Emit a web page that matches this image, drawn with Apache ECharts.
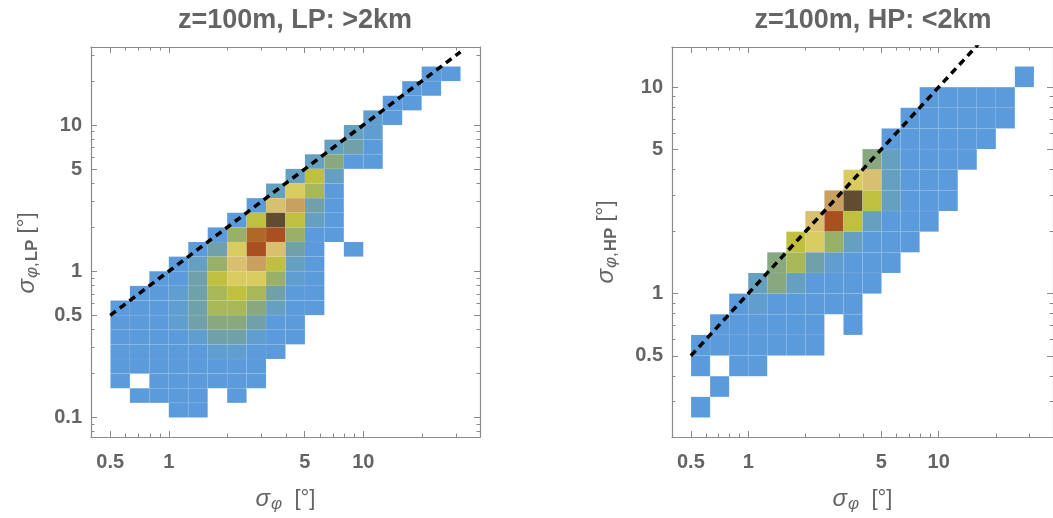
<!DOCTYPE html>
<html>
<head>
<meta charset="utf-8">
<script src="https://cdn.jsdelivr.net/npm/echarts@6/dist/echarts.min.js"></script>
<style>
  html, body { margin: 0; padding: 0; background: #ffffff; }
  #chart { width: 1053px; height: 518px; }
</style>
</head>
<body>
<div id="chart"></div>
<script>
// Histogram bins are 0.1 wide in log10 units: bin k spans 10^(0.1k) .. 10^(0.1(k+1)).
const BIN = 0.1;

// Counts per row: [yBin, firstXBin, counts for consecutive x bins...]; 0 = empty bin.
const lpRows = [
  [13, 13, 1, 1],
  [12, 12, 1, 1],
  [11, 11, 1, 1],
  [10, 10, 2, 1],
  [9, 9, 3, 2],
  [8, 8, 3, 4, 1],
  [7, 7, 3, 5, 1, 1],
  [6, 6, 3, 8, 3],
  [5, 5, 3, 9, 7, 1],
  [4, 4, 1, 10, 11, 4, 1],
  [3, 3, 1, 8, 14, 8, 3, 1],
  [2, 2, 1, 6, 12, 13, 6, 1, 1],
  [1, 1, 1, 4, 9, 13, 10, 4, 1, 0, 1],
  [0, 0, 1, 3, 6, 10, 11, 8, 3, 1],
  [-1, -1, 1, 1, 4, 8, 9, 9, 6, 2, 1],
  [-2, -2, 1, 1, 2, 4, 7, 8, 7, 4, 1, 1],
  [-3, -3, 1, 1, 1, 2, 4, 7, 7, 5, 3, 1, 1],
  [-4, -3, 1, 1, 1, 2, 4, 5, 5, 4, 1, 1],
  [-5, -3, 1, 1, 1, 1, 2, 4, 4, 2, 1, 1],
  [-6, -3, 1, 1, 1, 1, 1, 2, 2, 1, 1],
  [-7, -3, 1, 1, 1, 1, 1, 1, 1, 1],
  [-8, -3, 1, 0, 1, 1, 1, 1, 1, 1],
  [-9, -2, 1, 1, 1, 1, 0, 1],
  [-10, 0, 1, 1]
];

const hpRows = [
  [10, 14, 1],
  [9, 9, 1, 1, 1, 1, 1],
  [8, 8, 1, 1, 1, 1, 1, 1],
  [7, 7, 1, 1, 1, 1, 1, 1],
  [6, 6, 5, 3, 1, 1, 1, 1],
  [5, 5, 9, 10, 3, 1, 1, 1],
  [4, 4, 11, 14, 8, 3, 1, 1, 1],
  [3, 3, 10, 13, 8, 3, 1, 1, 1],
  [2, 2, 8, 9, 6, 3, 1, 1, 1],
  [1, 1, 5, 7, 4, 2, 1, 1, 1],
  [0, 0, 3, 5, 3, 1, 1, 1, 1],
  [-1, -1, 1, 2, 1, 1, 1, 1, 1],
  [-2, -2, 1, 1, 1, 1, 1, 1, 0, 1],
  [-3, -3, 1, 1, 1, 1, 1, 1, 1],
  [-4, -3, 1, 0, 1, 1],
  [-5, -2, 1],
  [-6, -3, 1]
];

// 1:1 reference line
const diagonal = [0.5, 31.6];

// Tick values
const xMajor = [0.5, 1, 5, 10];
const xMinor = [0.6, 0.7, 0.8, 0.9, 2, 3, 4, 6, 7, 8, 9, 20, 30];
const lpYMajor = [0.1, 0.5, 1, 5, 10];
const lpYMinor = [0.08, 0.09, 0.2, 0.3, 0.4, 0.6, 0.7, 0.8, 0.9, 2, 3, 4, 6, 7, 8, 9, 20, 30];
const hpYMajor = [0.5, 1, 5, 10];
const hpYMinor = [0.3, 0.4, 0.6, 0.7, 0.8, 0.9, 2, 3, 4, 6, 7, 8, 9];

// Colour scale for the counts (low -> high)
const palette = ['#5b9bdc', '#5f9ecf', '#66a0c0', '#70a0a8', '#88a880', '#98b068', '#a8b858',
                 '#c0c040', '#d8cc60', '#d8c070', '#c8a060', '#b06828', '#a85020', '#604c30'];

function toCells(rows) {
  const out = [];
  rows.forEach(r => {
    const j = r[0], i0 = r[1];
    for (let k = 2; k < r.length; k++) {
      if (r[k] > 0) out.push([Math.pow(10, (i0 + k - 2) * BIN), Math.pow(10, j * BIN), r[k]]);
    }
  });
  return out;
}

function renderCell(params, api) {
  const f = Math.pow(10, BIN);
  const x0 = api.value(0), y0 = api.value(1);
  const a = api.coord([x0, y0 * f]);
  const b = api.coord([x0 * f, y0]);
  return {
    type: 'rect',
    shape: { x: a[0], y: a[1], width: b[0] - a[0], height: b[1] - a[1] },
    style: { fill: api.visual('color'), stroke: 'rgba(255,255,255,0.12)', lineWidth: 0.5 }
  };
}

const GREY = '#646464';
const FRAME = '#8a8a8a';
const FONT = 'Liberation Sans';

function fmt(v) { return String(+Number(v).toPrecision(3)); }

function axisSet(dim, grid, min, max, major, minor, name, nameGap, namePad) {
  const first = dim === 'x' ? 'bottom' : 'left';
  const second = dim === 'x' ? 'top' : 'right';
  const base = {
    type: 'log', logBase: 10, gridIndex: grid, min: min, max: max,
    splitLine: { show: false }
  };
  const mk = (pos, ticks, len, labels, line) => Object.assign({}, base, {
    position: pos,
    axisLine: { show: line, onZero: false, lineStyle: { color: FRAME, width: 1.2 } },
    axisTick: { show: true, inside: true, length: len, customValues: ticks,
                lineStyle: { color: FRAME, width: 1 } },
    axisLabel: labels ? {
      show: true, customValues: major, formatter: fmt,
      margin: dim === 'x' ? 15 : 9,
      fontFamily: FONT, fontWeight: 'bold', fontSize: 20, color: GREY
    } : { show: false }
  });
  const main = mk(first, major, 6, true, true);
  if (name) {
    main.name = name;
    main.nameLocation = 'middle';
    main.nameGap = nameGap;
    main.nameTextStyle = {
      color: GREY, fontFamily: FONT, fontSize: 22, padding: namePad || 0,
      rich: {
        s: { fontStyle: 'italic', fontSize: 24, color: GREY, fontFamily: FONT },
        sub: { fontStyle: 'italic', fontSize: 17, color: GREY, fontFamily: FONT, padding: [11, 0, 0, 1] },
        subn: { fontSize: 17, color: GREY, fontFamily: FONT, padding: [11, 0, 0, 0] },
        subb: { fontSize: 17, fontWeight: 'bold', color: GREY, fontFamily: FONT, padding: [11, 0, 0, 1] },
        n: { fontSize: 22, color: GREY, fontFamily: FONT }
      }
    };
  }
  return [
    main,
    mk(first, minor, 3.5, false, false),
    mk(second, major, 6, false, true),
    mk(second, minor, 3.5, false, false)
  ];
}

const xName = '{s|σ}{sub|φ}  {n|[°]}';
const lpYName = '{s|σ}{sub|φ}{subn|,}{subb|LP} {n|[°]}';
const hpYName = '{s|σ}{sub|φ}{subn|,}{subb|HP} {n|[°]}';

const X_MIN = Math.pow(10, -0.4), X_MAX = Math.pow(10, 1.6);
const LP_Y_MIN = Math.pow(10, -1.1333), LP_Y_MAX = Math.pow(10, 1.5333);
const HP_Y_MIN = Math.pow(10, -0.6944), HP_Y_MAX = Math.pow(10, 1.1944);

const xAxes = [].concat(
  axisSet('x', 0, X_MIN, X_MAX, xMajor, xMinor, xName, 48),
  axisSet('x', 1, X_MIN, X_MAX, xMajor, xMinor, xName, 48)
);
const yAxes = [].concat(
  axisSet('y', 0, LP_Y_MIN, LP_Y_MAX, lpYMajor, lpYMinor, lpYName, 50, [0, 22, 0, 0]),
  axisSet('y', 1, HP_Y_MIN, HP_Y_MAX, hpYMajor, hpYMinor, hpYName, 52)
);

const titleStyle = { fontFamily: FONT, fontWeight: 'bold', fontSize: 27, color: GREY };

const option = {
  animation: false,
  backgroundColor: '#ffffff',
  title: [
    { text: 'z=100m, LP: >2km', left: 290, top: 2, textAlign: 'center', textStyle: titleStyle },
    { text: 'z=100m, HP: <2km', left: 868, top: 2, textAlign: 'center', textStyle: titleStyle }
  ],
  grid: [
    { left: 91, top: 47, width: 389, height: 390 },
    { left: 672, top: 47, width: 389, height: 390 }
  ],
  xAxis: xAxes,
  yAxis: yAxes,
  visualMap: {
    show: false, type: 'continuous', seriesIndex: [0, 2], dimension: 2,
    min: 1, max: palette.length, inRange: { color: palette }
  },
  series: [
    { type: 'custom', xAxisIndex: 0, yAxisIndex: 0, data: toCells(lpRows),
      encode: { x: 0, y: 1 }, renderItem: renderCell },
    { type: 'line', xAxisIndex: 0, yAxisIndex: 0, data: diagonal.map(v => [v, v]),
      symbol: 'none', lineStyle: { color: '#000', width: 3.5, type: [7, 5] }, z: 5 },
    { type: 'custom', xAxisIndex: 4, yAxisIndex: 4, data: toCells(hpRows),
      encode: { x: 0, y: 1 }, renderItem: renderCell },
    { type: 'line', xAxisIndex: 4, yAxisIndex: 4, data: diagonal.map(v => [v, v]),
      symbol: 'none', lineStyle: { color: '#000', width: 3.5, type: [7, 5] }, z: 5 }
  ]
};

echarts.init(document.getElementById('chart'), null, { renderer: 'canvas' }).setOption(option);
</script>
</body>
</html>
